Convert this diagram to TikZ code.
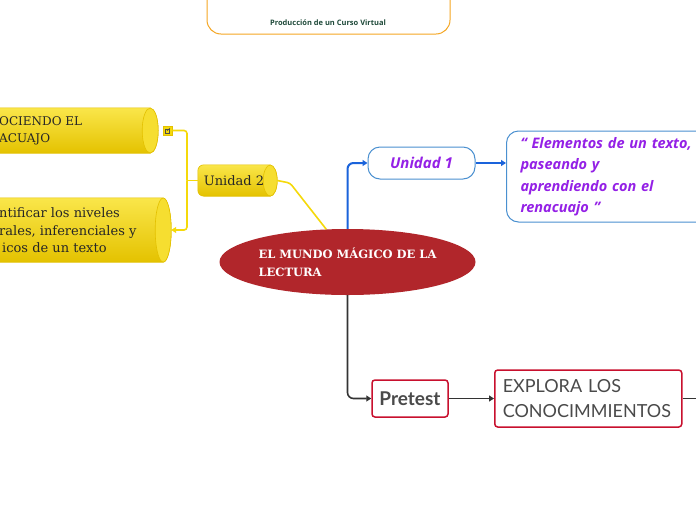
\documentclass[tikz,border=0pt]{standalone}
\usepackage{fontspec}
\usetikzlibrary{shapes.geometric,arrows.meta,calc}
\newfontfamily\slabfont{DejaVu Serif}
\newfontfamily\opensans{Open Sans}
\newfontfamily\latofont{Lato}
\definecolor{yeltop}{HTML}{FAE64A}
\definecolor{yelbot}{HTML}{E4C200}
\definecolor{yelend}{HTML}{F6DE30}
\definecolor{yeledge}{HTML}{E3C000}
\definecolor{yelline}{HTML}{F5D90A}
\definecolor{bluel}{HTML}{1A63DB}
\definecolor{blueedge}{HTML}{4A90D0}
\definecolor{purp}{HTML}{9420E6}
\definecolor{redell}{HTML}{B1262B}
\definecolor{rededge}{HTML}{C8102E}
\definecolor{graytxt}{HTML}{4A4A4A}
\definecolor{darkline}{HTML}{333333}
\definecolor{orangeedge}{HTML}{F5A623}
\definecolor{greentxt}{HTML}{1F4A3A}
\tikzset{
  ybody/.style={rectangle, inner sep=0pt},
  ytext/.style={font=\slabfont\fontsize{12}{17.5}\selectfont, text=black!85, align=left, inner sep=0pt},
  yconn/.style={draw=yelline, line width=1.6pt, rounded corners=3},
  bconn/.style={draw=bluel, line width=2pt, rounded corners=6},
  kconn/.style={draw=darkline, line width=1.6pt, rounded corners=6},
  tip/.style={-{Triangle[length=5pt,width=6pt]}},
  bluebox/.style={draw=blueedge, line width=1pt, fill=white},
  redbox/.style={draw=rededge, line width=1.5pt, fill=white, rounded corners=3},
}
% #1 node name, #2 cap x radius, #3 half height, #4 left corner radius
\newcommand\drawcyl[4]{%
  \path[draw=yeledge, line width=0.6pt, top color=yeltop, bottom color=yelbot]
    (#1.north east) [rounded corners=#4] -- (#1.north west) -- (#1.south west)
    [sharp corners] -- (#1.south east)
    arc[start angle=90, end angle=-90, x radius=#2, y radius=#3] -- cycle;
  \draw[draw=yeledge, line width=0.6pt, fill=yelend] (#1.east) ellipse[x radius=#2, y radius=#3];
}
\begin{document}
\begin{tikzpicture}[x=1pt,y=-1pt]
\useasboundingbox (0,0) rectangle (696,520);
\clip (0,0) rectangle (696,520);
\fill[white] (0,0) rectangle (696,520);

% top box
\node[draw=orangeedge, line width=1pt, fill=white, rounded corners=14,
  minimum width=243, minimum height=64, inner sep=0] (top) at (328.5,2) {};
\node[font=\opensans\bfseries\fontsize{7.5}{9}\selectfont, text=greentxt, inner sep=0] (toptxt) at (328,23) {Producción de un Curso Virtual};

% yellow cylinders
\node[ybody, minimum width=190, minimum height=45] (c1) at (55,130.5) {};
\drawcyl{c1}{8}{22.5}{6}
\node[ytext, anchor=west] (c1t) at (-1,131) {OCIENDO EL\\ACUAJO};
\node[ybody, minimum width=203, minimum height=64] (c2) at (61.5,230) {};
\drawcyl{c2}{8}{32}{6}
\node[ytext, anchor=west, font=\slabfont\fontsize{13}{17.5}\selectfont] (c2t) at (-1,230.5) {ntificar los niveles\\rales, inferenciales y\\\hspace*{3pt}icos de un texto};
\node[ybody, minimum width=72, minimum height=31] (u2) at (234,180.5) {};
\drawcyl{u2}{7}{15.5}{6}
\node[ytext, font=\slabfont\fontsize{13}{15}\selectfont] (u2t) at (u2.center) {Unidad 2};

% icon
\node[draw=yeledge, fill=yelline, minimum size=9, inner sep=0, line width=0.5pt] (icon) at (167.5,130.5) {};
\draw[black!70, line width=0.5pt] ($(icon.center)+(-2.5,-1.5)$) rectangle ($(icon.center)+(1.5,2.5)$);
\draw[black!70, line width=0.5pt] ($(icon.center)+(-0.5,0.5)$) -- ($(icon.center)+(2.5,-2.5)$);

% central ellipse
\node[ellipse, fill=redell, minimum width=256, minimum height=66, inner sep=0,
  align=left, text=white,
  font=\slabfont\bfseries\fontsize{11.5}{18}\selectfont] (ell) at (347.5,262) {EL MUNDO MÁGICO DE LA\\LECTURA};

% Unidad 1 and box
\node[bluebox, rounded corners=12, minimum width=107, minimum height=32, inner sep=0,
  font=\opensans\bfseries\itshape\fontsize{15}{18}\selectfont, text=purp] (u1) at (421.5,163) {Unidad 1};
\node[bluebox, rounded corners=12, anchor=west, minimum height=91, text width=200,
  inner xsep=14, inner ysep=0, align=left,
  font=\opensans\bfseries\itshape\fontsize{14.5}{21.5}\selectfont, text=purp] (big) at (506,176.5)
  {“ Elementos de un texto,\\paseando y\\aprendiendo con el\\renacuajo ”};

% Pretest and Explora
\node[redbox, minimum width=76, minimum height=37, inner sep=0,
  font=\latofont\bfseries\fontsize{19}{20}\selectfont, text=graytxt] (pre) at (410,398.5) {Pretest};
\node[redbox, anchor=west, minimum height=57, text width=171, inner xsep=8, inner ysep=0,
  align=left, font=\latofont\fontsize{18}{25}\selectfont, text=graytxt] (exp) at (494,398.5)
  {EXPLORA LOS\\CONOCIMMIENTOS};
\coordinate (expout) at (700,398.5);

% connectors
\coordinate (j) at (187,180.5);
\coordinate (ybend) at (290,183);
\draw[yconn] (ell.123) -- (ybend) -- ($(u2.east)+(7,0)$);
\draw[yconn] (u2.west) -- (j);
\draw[yconn] (j) |- (icon.east);
\draw[yconn, tip] (j) |- ($(c2.east)+(8,0)$);
\draw[bconn, tip] (ell.north) |- (u1.west);
\draw[draw=bluel, line width=1.2pt, tip] (u1.east) -- (u1.east -| big.west);
\draw[kconn, tip] (ell.south) |- (pre.west);
\draw[draw=darkline, line width=1.6pt, tip] (pre.east) -- (exp.west);
\draw[draw=darkline, line width=1.6pt] (exp.east) -- (expout);
\end{tikzpicture}
\end{document}
